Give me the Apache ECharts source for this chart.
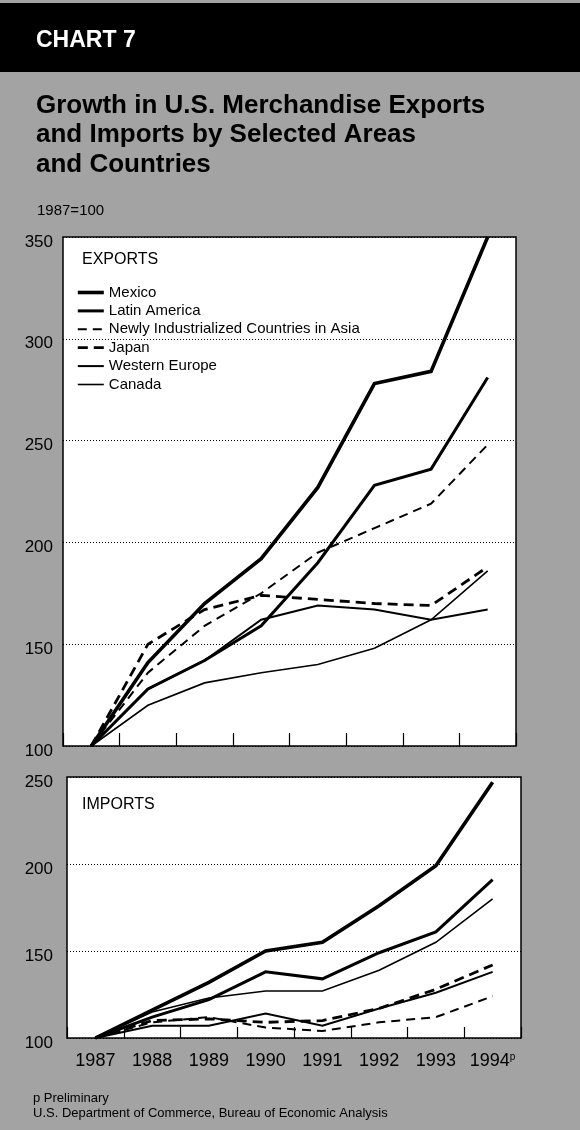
<!DOCTYPE html>
<html><head><meta charset="utf-8">
<script src="https://cdn.jsdelivr.net/npm/echarts@6/dist/echarts.min.js"></script>
<style>html,body{margin:0;padding:0;background:#a3a3a3}#c{width:580px;height:1130px}</style>
</head><body><div id="c"></div>
<script>
const years = ['1987','1988','1989','1990','1991','1992','1993','1994'];
const seriesNames = ['Mexico','Latin America','Newly Industrialized Countries in Asia','Japan','Western Europe','Canada'];

// Exports, index 1987=100
const expMexico = [100, 141, 170, 192, 227, 278, 284, 350];
const expLatinAmerica = [100, 128, 142, 159, 190, 228, 236, 281];
const expNICs = [100, 136, 159, 175, 195, 207, 219, 248];
const expJapan = [100, 150, 167, 174, 172, 170, 169, 188];
const expWesternEurope = [100, 128, 142, 162, 169, 167, 162, 167];
const expCanada = [100, 120, 131, 136, 140, 148, 162, 186];

// Imports, index 1987=100
const impMexico = [100, 116, 132, 150, 155, 176, 199, 247];
const impLatinAmerica = [100, 112, 122, 138, 134, 149, 161, 191];
const impNICs = [100, 109, 112, 106, 104, 109, 112, 124];
const impJapan = [100, 110, 111, 109, 110, 117, 128, 142];
const impWesternEurope = [100, 107, 107, 114, 107, 117, 126, 138];
const impCanada = [100, 115, 123, 127, 127, 139, 155, 180];

const exportData = [expMexico, expLatinAmerica, expNICs, expJapan, expWesternEurope, expCanada];
const importData = [impMexico, impLatinAmerica, impNICs, impJapan, impWesternEurope, impCanada];

const lineStyles = [
  {width: 3.6, type: 'solid'},
  {width: 3.0, type: 'solid'},
  {width: 2.0, type: [9, 6]},
  {width: 2.8, type: [10, 6]},
  {width: 2.0, type: 'solid'},
  {width: 1.6, type: 'solid'}
];

const FONT = '"Liberation Sans", Arial, Helvetica, sans-serif';
const chart = echarts.init(document.getElementById('c'), null, {renderer: 'canvas'});

function mkSeries(data, gi) {
  return data.map((d, i) => ({
    name: seriesNames[i], type: 'line', xAxisIndex: gi, yAxisIndex: gi,
    data: d, symbol: 'none', showSymbol: false, silent: true, animation: false,
    lineStyle: Object.assign({color: '#000', cap: 'butt', join: 'miter'}, lineStyles[i]),
    itemStyle: {color: '#000'}
  }));
}

const yAxisCommon = (min, max, margin) => ({
  type: 'value', min: min, max: max, interval: 50,
  axisLine: {show: false}, axisTick: {show: false},
  axisLabel: {color: '#000', fontSize: 17, fontFamily: FONT, margin: margin, verticalAlign: 'top', lineHeight: 10},
  splitLine: {show: true, lineStyle: {color: '#000', width: 1, type: [1, 2]}}
});

const legendData = seriesNames.map((n, i) => ({
  name: n,
  itemStyle: {opacity: 0},
  lineStyle: Object.assign({color: '#000', cap: 'butt'}, lineStyles[i])
}));

const option = {
  backgroundColor: '#a3a3a3',
  animation: false,
  textStyle: {fontFamily: FONT},
  grid: [
    {left: 63, right: 64, top: 237, height: 509, show: true, backgroundColor: '#fff', borderColor: '#000', borderWidth: 1.5},
    {left: 67, right: 59, top: 777, height: 261, show: true, backgroundColor: '#fff', borderColor: '#000', borderWidth: 1.5}
  ],
  xAxis: [
    {type: 'category', data: years, gridIndex: 0, boundaryGap: true,
     axisLine: {show: false}, axisLabel: {show: false},
     axisTick: {show: true, inside: true, length: 13, interval: 0, lineStyle: {color: '#000', width: 1.2}}},
    {type: 'category', data: years, gridIndex: 1, boundaryGap: true,
     axisLine: {show: false},
     axisTick: {show: true, inside: true, length: 11, interval: 0, lineStyle: {color: '#000', width: 1.2}},
     axisLabel: {show: true, interval: 0, color: '#000', fontSize: 18, fontFamily: FONT, margin: 14,
       formatter: v => v === '1994' ? '1994{p|p}' : v,
       rich: {p: {fontSize: 10, fontFamily: FONT, color: '#000', verticalAlign: 'top', padding: [0, 0, 8, 0]}}}}
  ],
  yAxis: [
    Object.assign({gridIndex: 0}, yAxisCommon(100, 350, 10)),
    Object.assign({gridIndex: 1}, yAxisCommon(100, 250, 14))
  ],
  legend: {
    data: legendData, orient: 'vertical', left: 76, top: 285, padding: 0,
    itemWidth: 26, itemHeight: 15, itemGap: 3.4, selectedMode: false,
    itemStyle: {opacity: 0},
    textStyle: {color: '#000', fontSize: 15, fontFamily: FONT, lineHeight: 15}
  },
  graphic: [
    {type: 'rect', shape: {x: 0, y: 3, width: 580, height: 69}, style: {fill: '#000'}, silent: true},
    {type: 'text', style: {text: 'CHART 7', x: 36, y: 41, fill: '#fff', font: 'bold 23px ' + FONT, verticalAlign: 'middle'}},
    {type: 'text', style: {text: 'Growth in U.S. Merchandise Exports', x: 36, y: 106, fill: '#000', font: 'bold 26px ' + FONT, verticalAlign: 'middle'}},
    {type: 'text', style: {text: 'and Imports by Selected Areas', x: 36, y: 135, fill: '#000', font: 'bold 26px ' + FONT, verticalAlign: 'middle'}},
    {type: 'text', style: {text: 'and Countries', x: 36, y: 165, fill: '#000', font: 'bold 26px ' + FONT, verticalAlign: 'middle'}},
    {type: 'text', style: {text: '1987=100', x: 37, y: 211, fill: '#000', font: '15px ' + FONT, verticalAlign: 'middle'}},
    {type: 'text', z: 10, style: {text: 'EXPORTS', x: 82, y: 260, fill: '#000', font: '16px ' + FONT, verticalAlign: 'middle'}},
    {type: 'text', z: 10, style: {text: 'IMPORTS', x: 82, y: 805, fill: '#000', font: '16px ' + FONT, verticalAlign: 'middle'}},
    {type: 'text', style: {text: 'p Preliminary', x: 33, y: 1098, fill: '#000', font: '13px ' + FONT, verticalAlign: 'middle'}},
    {type: 'text', style: {text: 'U.S. Department of Commerce, Bureau of Economic Analysis', x: 33, y: 1113, fill: '#000', font: '13px ' + FONT, verticalAlign: 'middle'}}
  ],
  series: mkSeries(exportData, 0).concat(mkSeries(importData, 1))
};
chart.setOption(option);
</script>
</body></html>
